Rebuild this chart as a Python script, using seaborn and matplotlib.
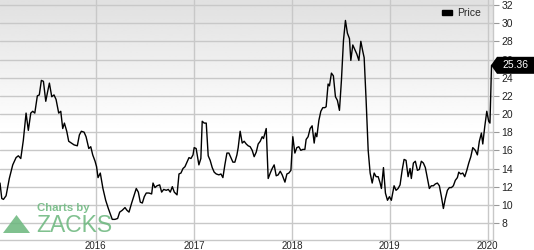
import numpy as np
import pandas as pd
import matplotlib
matplotlib.use("Agg")
import matplotlib.pyplot as plt
import matplotlib.dates as mdates
from matplotlib.patches import Polygon, Patch
import seaborn as sns

# ---- data (weekly closes) ----
decimal_years = [
    2015.023, 2015.041, 2015.058, 2015.085, 2015.118, 2015.153, 2015.187, 2015.210, 2015.235, 2015.261,
    2015.289, 2015.312, 2015.337, 2015.357, 2015.378, 2015.404, 2015.424, 2015.445, 2015.466, 2015.490,
    2015.506, 2015.527, 2015.551, 2015.574, 2015.595, 2015.622, 2015.643, 2015.663, 2015.680, 2015.704,
    2015.724, 2015.751, 2015.779, 2015.812, 2015.833, 2015.853, 2015.881, 2015.901, 2015.929, 2015.949,
    2015.969, 2015.993, 2016.009, 2016.024, 2016.047, 2016.074, 2016.102, 2016.129, 2016.149, 2016.169,
    2016.197, 2016.224, 2016.245, 2016.271, 2016.299, 2016.319, 2016.340, 2016.367, 2016.394, 2016.414,
    2016.435, 2016.455, 2016.476, 2016.496, 2016.516, 2016.544, 2016.571, 2016.585, 2016.605, 2016.626,
    2016.653, 2016.673, 2016.694, 2016.720, 2016.741, 2016.761, 2016.782, 2016.802, 2016.830, 2016.850,
    2016.870, 2016.891, 2016.911, 2016.932, 2016.952, 2016.972, 2016.993, 2017.003, 2017.023, 2017.051,
    2017.071, 2017.085, 2017.105, 2017.126, 2017.146, 2017.166, 2017.187, 2017.207, 2017.228, 2017.255,
    2017.276, 2017.296, 2017.316, 2017.337, 2017.357, 2017.378, 2017.398, 2017.418, 2017.439, 2017.452,
    2017.472, 2017.493, 2017.513, 2017.534, 2017.554, 2017.574, 2017.595, 2017.615, 2017.636, 2017.656,
    2017.677, 2017.697, 2017.710, 2017.738, 2017.758, 2017.779, 2017.799, 2017.819, 2017.840, 2017.860,
    2017.881, 2017.901, 2017.929, 2017.949, 2017.969, 2017.990, 2018.010, 2018.031, 2018.051, 2018.071,
    2018.092, 2018.112, 2018.133, 2018.146, 2018.166, 2018.187, 2018.207, 2018.228, 2018.241, 2018.255,
    2018.276, 2018.296, 2018.316, 2018.337, 2018.350, 2018.370, 2018.384, 2018.404, 2018.424, 2018.445,
    2018.465, 2018.486, 2018.506, 2018.527, 2018.547, 2018.567, 2018.588, 2018.602, 2018.622, 2018.643,
    2018.663, 2018.684, 2018.704, 2018.724, 2018.738, 2018.758, 2018.779, 2018.799, 2018.820, 2018.840,
    2018.860, 2018.881, 2018.901, 2018.914, 2018.935, 2018.955, 2018.976, 2018.996, 2019.016, 2019.044,
    2019.064, 2019.085, 2019.105, 2019.126, 2019.146, 2019.166, 2019.187, 2019.207, 2019.220, 2019.241,
    2019.261, 2019.282, 2019.302, 2019.322, 2019.343, 2019.363, 2019.384, 2019.404, 2019.424, 2019.445,
    2019.465, 2019.486, 2019.506, 2019.527, 2019.547, 2019.567, 2019.588, 2019.608, 2019.629, 2019.649,
    2019.669, 2019.690, 2019.704, 2019.724, 2019.745, 2019.765, 2019.786, 2019.806, 2019.827, 2019.847,
    2019.873, 2019.894, 2019.914, 2019.935, 2019.949, 2019.969, 2019.990, 2020.010, 2020.023, 2020.039,
]
prices = [
    12.4, 10.7, 10.6, 11.0, 12.9, 14.4, 15.2, 15.4, 15.1, 17.1,
    20.1, 18.2, 20.1, 20.3, 20.1, 22.0, 22.1, 23.7, 23.6, 21.4,
    22.3, 23.4, 21.9, 22.1, 21.6, 20.1, 20.3, 18.4, 19.0, 18.1,
    17.0, 16.8, 16.6, 16.5, 17.7, 18.1, 18.0, 17.5, 16.2, 16.4,
    15.5, 14.8, 14.2, 13.0, 13.5, 11.8, 10.5, 9.6, 9.0, 8.4,
    8.4, 8.5, 9.2, 9.4, 9.7, 9.4, 9.2, 10.2, 11.1, 11.8,
    11.4, 10.3, 10.2, 10.9, 11.3, 11.3, 11.2, 12.4, 11.9, 12.1,
    12.2, 11.4, 11.7, 11.6, 11.7, 11.4, 12.0, 11.4, 11.1, 13.4,
    13.5, 14.0, 14.2, 14.7, 15.2, 15.1, 15.5, 16.3, 16.2, 14.4,
    15.1, 19.2, 19.0, 19.0, 15.4, 14.9, 14.1, 13.6, 13.4, 13.3,
    13.4, 13.0, 14.4, 15.7, 15.7, 15.2, 14.7, 14.7, 15.5, 16.3,
    18.1, 16.8, 17.0, 16.7, 16.5, 16.4, 16.0, 15.3, 15.8, 16.7,
    17.0, 17.5, 17.3, 18.4, 12.9, 13.5, 14.0, 14.4, 13.2, 13.3,
    13.7, 13.3, 12.5, 13.4, 13.5, 13.8, 17.5, 15.7, 16.3, 16.4,
    16.0, 16.1, 16.1, 17.2, 17.5, 18.4, 18.7, 16.8, 17.9, 17.5,
    19.3, 20.3, 20.7, 20.7, 20.8, 23.3, 23.1, 24.5, 24.2, 21.9,
    21.5, 20.4, 23.7, 28.1, 30.3, 28.9, 28.3, 25.9, 27.6, 27.1,
    26.6, 25.9, 28.0, 26.9, 26.2, 21.5, 16.0, 13.5, 12.4, 13.5,
    13.1, 13.1, 12.4, 11.8, 14.1, 11.3, 10.5, 10.9, 10.5, 12.1,
    11.6, 11.8, 12.2, 13.8, 15.0, 14.9, 13.1, 14.0, 12.9, 14.6,
    14.8, 13.8, 13.9, 14.8, 14.6, 14.1, 12.9, 11.8, 12.1, 12.1,
    12.3, 12.4, 12.1, 10.9, 9.6, 10.7, 11.6, 11.9, 11.9, 12.1,
    12.7, 13.0, 13.6, 13.4, 13.5, 13.1, 13.8, 14.6, 15.3, 16.3,
    16.0, 15.5, 17.0, 17.9, 16.7, 18.6, 20.3, 19.2, 19.0, 25.36,
]
year_ticks = [2016, 2017, 2018, 2019, 2020]
price_ticks = [8, 10, 12, 14, 16, 18, 20, 22, 24, 26, 28, 30, 32]
series_name = "Price"
last_label = "25.36"


def to_date(y):
    yr = int(np.floor(y))
    return pd.Timestamp(yr, 1, 1) + pd.Timedelta(days=(y - yr) * 365.25)


df = pd.DataFrame({"date": [to_date(v) for v in decimal_years], "price": prices})

sns.set_theme(style="white")
plt.rcParams["font.family"] = ["Liberation Sans", "DejaVu Sans"]

W, H = 534, 250
fig = plt.figure(figsize=(W / 100, H / 100), dpi=100)
ax = fig.add_axes([0.0, 10 / H, 493 / W, 240 / H])

# gradient background
grad = np.concatenate([np.linspace(0.88, 1.0, 60), np.ones(50)])[:, None]
ax.imshow(grad, extent=[0, 1, 0, 1], transform=ax.transAxes, cmap="gray",
          vmin=0, vmax=1, aspect="auto", zorder=0, interpolation="bilinear")

sns.lineplot(data=df, x="date", y="price", color="black", linewidth=1.0, ax=ax, zorder=3)

ax.set_xlim(to_date(2015.023), to_date(2020.054))
ax.set_ylim(6.13, 32.55)

ax.set_xticks([pd.Timestamp(y, 1, 1) for y in year_ticks])
ax.xaxis.set_major_formatter(mdates.DateFormatter("%Y"))
ax.set_yticks(price_ticks)
ax.yaxis.tick_right()
ax.grid(True, color="#c8c8c8", linewidth=1.0, zorder=1)
ax.set_axisbelow(True)
ax.set_xlabel("")
ax.set_ylabel("")

for side in ["top", "left"]:
    ax.spines[side].set_visible(False)
for side in ["right", "bottom"]:
    ax.spines[side].set_color("#c8c8c8")
    ax.spines[side].set_linewidth(1.0)

ax.tick_params(axis="x", length=0, pad=0.8, labelsize=7, labelcolor="#222222")
ax.tick_params(axis="y", right=True, left=False, length=4, width=0.8, color="#999999",
               pad=2, labelsize=7.5, labelcolor="#222222")

# legend
leg = ax.legend(handles=[Patch(facecolor="black", edgecolor="black", label=series_name)],
                loc="upper right", bbox_to_anchor=(0.995, 1.005), frameon=False,
                fontsize=7.5, handlelength=1.0, handleheight=0.45, handletextpad=0.5)

# last value marker
fig.canvas.draw()
last = df["price"].iloc[-1]
_, ypix = ax.transData.transform((0, last))
xr = ax.transAxes.transform((1, 0))[0]
poly = Polygon([(xr - 2, ypix), (xr + 4, ypix + 8.5), (W, ypix + 8.5),
                (W, ypix - 8.5), (xr + 4, ypix - 8.5)], closed=True,
               facecolor="black", edgecolor="none", transform=None, zorder=10)
fig.add_artist(poly)
fig.text((xr + 9) / W, ypix / H, last_label, color="white", fontsize=7.5,
         va="center", ha="left", zorder=11)

# Zacks watermark
green = "#6ab67c"
fig.text(37 / W, 1 - 208 / H, "Charts by", color=green, fontsize=8.2, fontweight="bold",
         va="center", ha="left", alpha=0.85)
fig.text(36 / W, 1 - 226 / H, "ZACKS", color=green, fontsize=16.5, va="center",
         ha="left", alpha=0.85)
tri = Polygon([(3 / W, 1 - 233 / H), (30 / W, 1 - 233 / H), (16.5 / W, 1 - 215 / H)],
              closed=True, facecolor=green, edgecolor="none", alpha=0.85,
              transform=fig.transFigure)
fig.add_artist(tri)

fig.savefig("out.png", dpi=100)
